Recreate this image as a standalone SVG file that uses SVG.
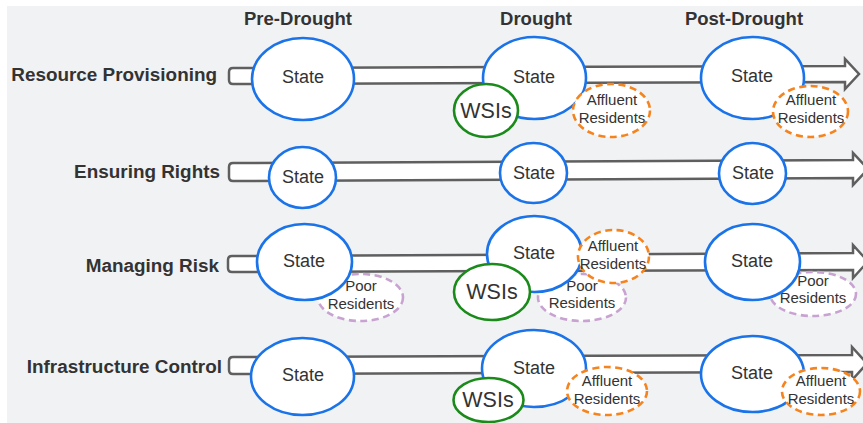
<svg xmlns="http://www.w3.org/2000/svg" width="863" height="423" viewBox="0 0 863 423">
<style>
.bg{fill:#f1f2f4}
.band{fill:#ffffff;stroke:#5f5f5f;stroke-width:2.5;stroke-linejoin:miter}
.st{fill:#ffffff;stroke:#1a73e8;stroke-width:2.6}
.ws{fill:#ffffff;stroke:#1a8a1a;stroke-width:2.6}
.af{fill:#ffffff;stroke:#f5841f;stroke-width:2.6;stroke-dasharray:7 4.5}
.pr{fill:#ffffff;stroke:#c8a2d0;stroke-width:2.6;stroke-dasharray:7 4.5}
text{font-family:"Liberation Sans",Arial,sans-serif;fill:#333333}
.hd{font-size:18.5px;font-weight:bold;text-anchor:middle}
.rl{font-size:18.9px;font-weight:bold;text-anchor:end}
.sl{font-size:18px;text-anchor:middle}
.wl{font-size:21.5px;text-anchor:middle}
.sm{font-size:15px;text-anchor:middle}
</style>
<rect class="bg" x="7" y="6" width="856" height="417"/>
<g id="headers">
<text class="hd" x="298" y="25">Pre-Drought</text>
<text class="hd" x="536" y="25">Drought</text>
<text class="hd" x="744" y="25">Post-Drought</text>
</g>
<g id="row-labels">
<text class="rl" x="217" y="81">Resource Provisioning</text>
<text class="rl" x="220" y="177.5">Ensuring Rights</text>
<text class="rl" x="219" y="271.5">Managing Risk</text>
<text class="rl" x="222" y="372.5">Infrastructure Control</text>
</g>
<g id="connectors">
<path class="band" d="M233,68 L845,66 L845,59 L859,74 L845,89 L845,82 L233,84 Q229,84 229,80 L229,72 Q229,68 233,68 Z"/>
<path class="band" d="M233,163 L853,160 L853,153 L868,169 L853,185 L853,178 L233,181 Q229,181 229,177 L229,167 Q229,163 233,163 Z"/>
<path class="band" d="M232,256 L853,253 L853,245 L868,261.5 L853,278 L853,270 L232,272 Q228,272 228,268 L228,260 Q228,256 232,256 Z"/>
<path class="band" d="M233,357 L852,355 L852,347 L867,363.5 L852,380 L852,372 L233,374 Q229,374 229,370 L229,361 Q229,357 233,357 Z"/>
</g>
<!-- Row 1 -->
<g id="r1-pre-state"><ellipse class="st" cx="303" cy="79" rx="51" ry="41"/><text class="sl" x="303" y="83">State</text></g>
<g id="r1-dr-state"><ellipse class="st" cx="534.5" cy="78" rx="51.5" ry="41"/><text class="sl" x="534" y="83">State</text></g>
<g id="r1-dr-wsis"><ellipse class="ws" cx="486" cy="110.5" rx="32" ry="26.5"/><text class="wl" x="486" y="118">WSIs</text></g>
<g id="r1-dr-affluent"><ellipse class="af" cx="611.5" cy="110.5" rx="38.5" ry="26.5"/><text class="sm" x="612" y="104.5">Affluent</text><text class="sm" x="612" y="122.5">Residents</text></g>
<g id="r1-post-state"><ellipse class="st" cx="752.5" cy="78" rx="51.5" ry="41"/><text class="sl" x="752" y="82">State</text></g>
<g id="r1-post-affluent"><ellipse class="af" cx="810.5" cy="111.5" rx="37.5" ry="25.5"/><text class="sm" x="811" y="105">Affluent</text><text class="sm" x="811" y="123">Residents</text></g>
<!-- Row 2 -->
<g id="r2-pre-state"><ellipse class="st" cx="302.5" cy="177.5" rx="33.5" ry="30.5"/><text class="sl" x="303" y="182.5">State</text></g>
<g id="r2-dr-state"><ellipse class="st" cx="533.5" cy="173" rx="33.5" ry="30"/><text class="sl" x="534" y="179">State</text></g>
<g id="r2-post-state"><ellipse class="st" cx="752.5" cy="173.5" rx="33.5" ry="30.5"/><text class="sl" x="753" y="179">State</text></g>
<!-- Row 3 -->
<g id="r3-pre-poor"><ellipse class="pr" cx="360.5" cy="297.5" rx="42.5" ry="23.5"/><text class="sm" x="361" y="290.5">Poor</text><text class="sm" x="361" y="308.5">Residents</text></g>
<g id="r3-pre-state"><ellipse class="st" cx="304.5" cy="262" rx="47.5" ry="38"/><text class="sl" x="304" y="266.5">State</text></g>
<g id="r3-dr-poor"><ellipse class="pr" cx="582" cy="297.5" rx="44" ry="23.5"/><text class="sm" x="582" y="291">Poor</text><text class="sm" x="582" y="308">Residents</text></g>
<g id="r3-dr-state"><ellipse class="st" cx="534.5" cy="254" rx="47.5" ry="38"/><text class="sl" x="534" y="259">State</text></g>
<g id="r3-dr-wsis"><ellipse class="ws" cx="492" cy="292" rx="38" ry="28"/><text class="wl" x="492" y="299">WSIs</text></g>
<g id="r3-dr-affluent"><ellipse class="af" cx="613.5" cy="256.5" rx="35.5" ry="26.5"/><text class="sm" x="613" y="251">Affluent</text><text class="sm" x="613" y="269">Residents</text></g>
<g id="r3-post-poor"><ellipse class="pr" cx="813" cy="294" rx="43" ry="22"/><text class="sm" x="813" y="285.5">Poor</text><text class="sm" x="813" y="303">Residents</text></g>
<g id="r3-post-state"><ellipse class="st" cx="752.5" cy="262" rx="47.5" ry="38"/><text class="sl" x="752" y="266.5">State</text></g>
<!-- Row 4 -->
<g id="r4-pre-state"><ellipse class="st" cx="302.5" cy="376.5" rx="51.5" ry="38.5"/><text class="sl" x="303" y="380.5">State</text></g>
<g id="r4-dr-state"><ellipse class="st" cx="534" cy="368.5" rx="52" ry="38.5"/><text class="sl" x="534" y="373.5">State</text></g>
<g id="r4-dr-wsis"><ellipse class="ws" cx="488.5" cy="400" rx="35" ry="22"/><text class="wl" x="488" y="407">WSIs</text></g>
<g id="r4-dr-affluent"><ellipse class="af" cx="607" cy="391" rx="40" ry="24"/><text class="sm" x="607" y="385.5">Affluent</text><text class="sm" x="607" y="403.5">Residents</text></g>
<g id="r4-post-state"><ellipse class="st" cx="752.5" cy="374" rx="51.5" ry="38"/><text class="sl" x="752" y="378.5">State</text></g>
<g id="r4-post-affluent"><ellipse class="af" cx="821" cy="391.5" rx="39" ry="23.5"/><text class="sm" x="821" y="386">Affluent</text><text class="sm" x="821" y="404">Residents</text></g>
</svg>
